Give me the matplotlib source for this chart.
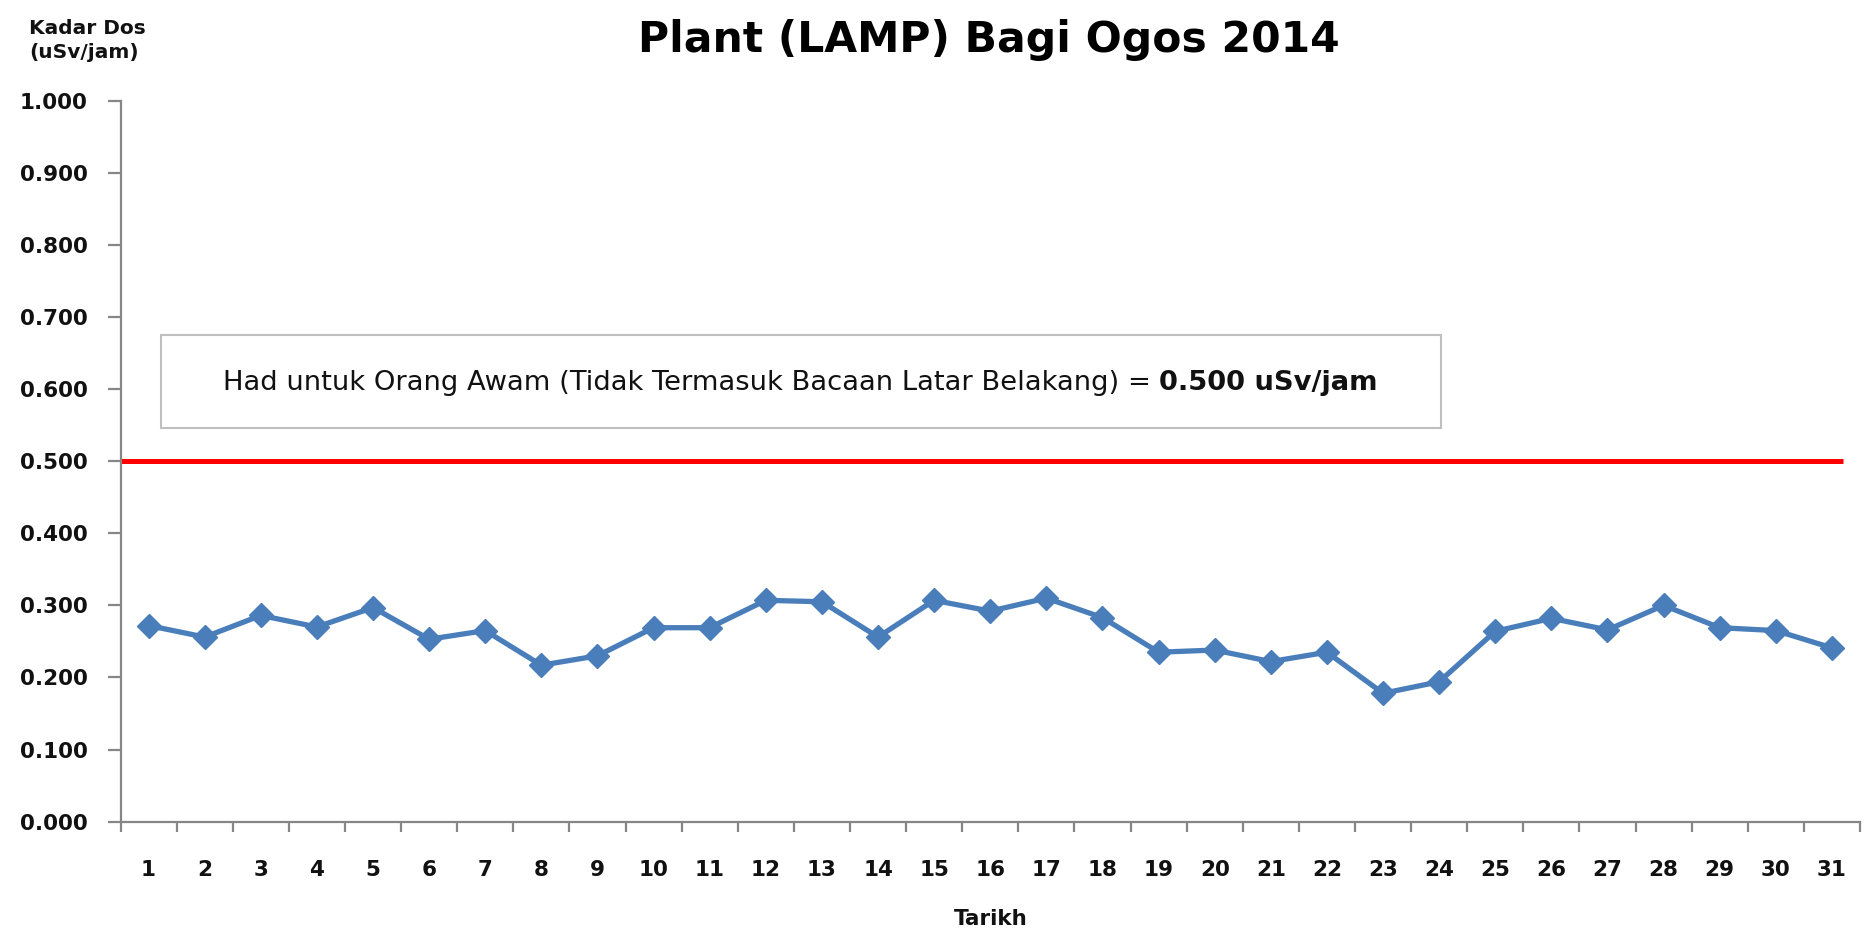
import matplotlib
matplotlib.use('Agg')
import matplotlib.pyplot as plt
from matplotlib.patches import Rectangle

# ---- data ----
days = list(range(1, 32))
dose = [0.272, 0.256, 0.286, 0.270, 0.297, 0.253, 0.265, 0.217, 0.230, 0.269,
        0.269, 0.307, 0.305, 0.256, 0.307, 0.292, 0.310, 0.283, 0.235, 0.238,
        0.222, 0.235, 0.178, 0.194, 0.264, 0.282, 0.266, 0.300, 0.269, 0.265,
        0.241]
limit = 0.500
yticks = [0.0, 0.1, 0.2, 0.3, 0.4, 0.5, 0.6, 0.7, 0.8, 0.9, 1.0]
ytick_labels = ["0.000", "0.100", "0.200", "0.300", "0.400", "0.500",
                "0.600", "0.700", "0.800", "0.900", "1.000"]
xtick_labels = [str(d) for d in days]
title = "Plant (LAMP) Bagi Ogos 2014"
ylabel = "Kadar Dos\n(uSv/jam)"
xlabel = "Tarikh"
note_regular = "Had untuk Orang Awam (Tidak Termasuk Bacaan Latar Belakang) ="
note_bold = "0.500 uSv/jam"

W, H = 1864, 930
fig = plt.figure(figsize=(W / 100, H / 100), dpi=100)
fig.patch.set_facecolor('white')

def fx(px):
    return px / W

def fy(py):
    return 1 - py / H

ax_l, ax_r, ax_t, ax_b = 120.5, 1860, 100.8, 821.6
ax = fig.add_axes([fx(ax_l), fy(ax_b), (ax_r - ax_l) / W, (ax_b - ax_t) / H])

# limit line
ax.axhline(limit, xmin=0, xmax=0.99, color='#ff0000', lw=3.6, zorder=2,
           solid_capstyle='butt')

# data line
ax.plot(days, dose, color='#4a7ebb', lw=3.8, marker='D', ms=12,
        markeredgecolor='#4a7ebb', zorder=3, solid_joinstyle='round')

ax.set_xlim(0.5, 31.5)
ax.set_ylim(0, 1.0)

axis_grey = '#868686'
for s in ['top', 'right']:
    ax.spines[s].set_visible(False)
for s in ['left', 'bottom']:
    ax.spines[s].set_color(axis_grey)
    ax.spines[s].set_linewidth(1.6)

tick_font = dict(family='DejaVu Sans', weight='bold', size=15.5)
ax.set_yticks(yticks)
ax.set_yticklabels(ytick_labels, fontdict=tick_font, color='#111111')
ax.tick_params(axis='y', length=9.5, width=1.6, color=axis_grey, pad=14)

ax.set_xticks(days)
ax.set_xticklabels(xtick_labels, fontdict=tick_font, color='#111111')
ax.set_xticks([d + 0.5 for d in [0] + days], minor=True)
ax.tick_params(axis='x', which='major', length=0, pad=28)
ax.tick_params(axis='x', which='minor', length=7, width=1.6, color=axis_grey)

# note box
bx0 = (160.5 - ax_l) / (ax_r - ax_l)
bx1 = (1441 - ax_l) / (ax_r - ax_l)
by0 = (ax_b - 428) / (ax_b - ax_t)
by1 = (ax_b - 335) / (ax_b - ax_t)
ax.add_patch(Rectangle((bx0, by0), bx1 - bx0, by1 - by0, transform=ax.transAxes,
                       facecolor='white', edgecolor='#bfbfbf', lw=1.5, zorder=4))

note_family = 'DejaVu Sans'
t1 = fig.text(fx(223), fy(390), note_regular, ha='left', va='baseline',
              family=note_family, size=16, color='#111111', zorder=6)
t2 = fig.text(0, fy(390), note_bold, ha='left', va='baseline',
              family=note_family, weight='bold', size=16, color='#111111', zorder=6)

# titles
tt = fig.text(fx(989), fy(52), title, ha='center', va='baseline',
              family='DejaVu Sans', weight='bold', size=28, color='#000000')
fig.text(fx(991), fy(925), xlabel, ha='center', va='baseline',
         family='DejaVu Sans', weight='bold', size=15.5, color='#111111')
fig.text(fx(29), fy(58), ylabel, ha='left', va='baseline',
         family='DejaVu Sans', weight='bold', size=14.5, color='#111111',
         linespacing=1.3)

# fit widths of title / note to the reference span
fig.canvas.draw()
r = fig.canvas.get_renderer()
w_title = tt.get_window_extent(r).width
tt.set_fontsize(tt.get_fontsize() * 702 / w_title)

gap = 8
w1 = t1.get_window_extent(r).width
w2 = t2.get_window_extent(r).width
k = (1156 - gap) / (w1 + w2)
t1.set_fontsize(16 * k)
t2.set_fontsize(16 * k)
fig.canvas.draw()
w1 = t1.get_window_extent(r).width
t2.set_x(fx(223 + w1 + gap))

fig.savefig('out.png', dpi=100, facecolor='white')
